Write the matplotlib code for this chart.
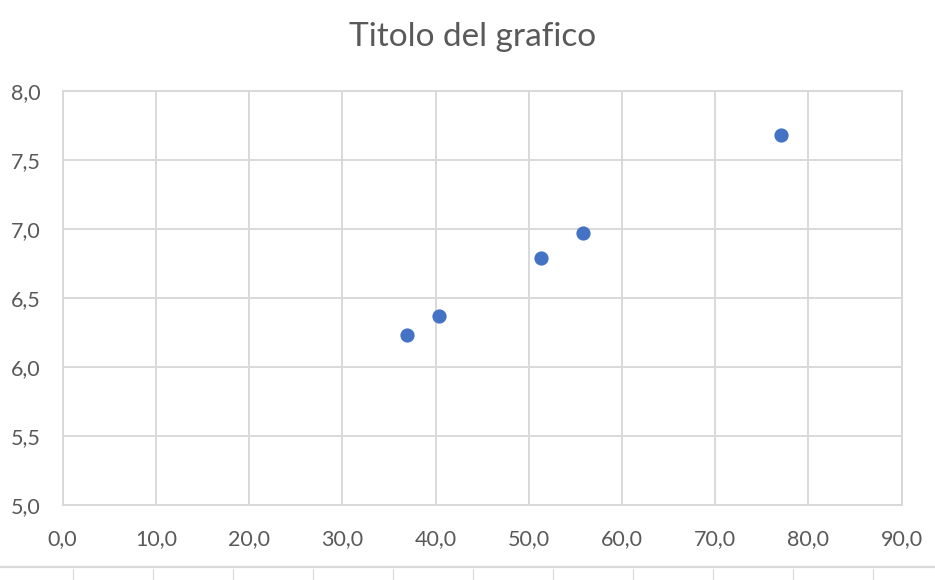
import matplotlib
matplotlib.use("Agg")
import matplotlib.pyplot as plt
from matplotlib.lines import Line2D
from matplotlib.ticker import FuncFormatter, MultipleLocator

x_values = [36.9, 40.4, 51.3, 55.8, 77.1]
y_values = [6.23, 6.37, 6.79, 6.97, 7.68]
title = "Titolo del grafico"

plt.rcParams['font.family'] = ['Lato', 'DejaVu Sans']
text_color = "#595959"
grid_color = "#D9D9D9"

fig = plt.figure(figsize=(9.35, 5.8), dpi=100)
ax = fig.add_axes([62.6/935, 1-505/580, (901.7-62.6)/935, (505-91)/580])

ax.scatter(x_values, y_values, s=105, color="#4472C4", zorder=3, linewidths=0)
ax.set_xlim(0, 90)
ax.set_ylim(5, 8)
ax.xaxis.set_major_locator(MultipleLocator(10))
ax.yaxis.set_major_locator(MultipleLocator(0.5))
fmt = FuncFormatter(lambda v, p: f"{v:.1f}".replace(".", ","))
ax.xaxis.set_major_formatter(fmt)
ax.yaxis.set_major_formatter(fmt)
ax.grid(True, color=grid_color, linewidth=1.4, zorder=0)
ax.set_axisbelow(True)
for s in ax.spines.values():
    s.set_color(grid_color)
    s.set_linewidth(1.4)
ax.tick_params(length=0, labelsize=15.5, labelcolor=text_color)
ax.tick_params(axis='x', pad=17)
ax.tick_params(axis='y', pad=16)

fig.text(472.5/935, 1-46/580, title, ha='center', va='baseline',
         fontsize=24, color=text_color)

# bottom strip decoration
fig.add_artist(Line2D([0, 1], [1-567/580, 1-567/580], color=grid_color, linewidth=1.6,
                      transform=fig.transFigure))
for k in range(11):
    xp = (73 + 80*k)/935
    fig.add_artist(Line2D([xp, xp], [0, 1-569/580], color=grid_color, linewidth=0.8,
                          transform=fig.transFigure))

fig.savefig("out.png", dpi=100)
